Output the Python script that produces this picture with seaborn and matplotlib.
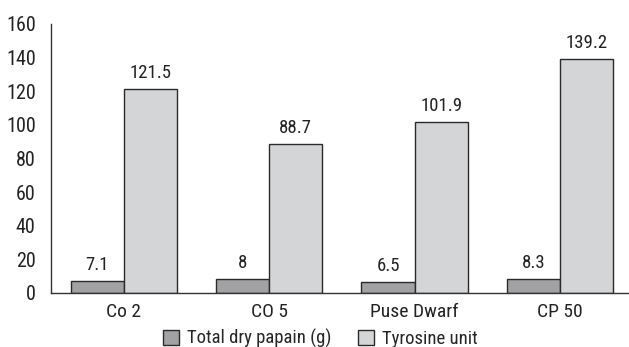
import matplotlib
matplotlib.use("Agg")
import matplotlib.pyplot as plt
import seaborn as sns
import pandas as pd

categories = ["Co 2", "CO 5", "Puse Dwarf", "CP 50"]
series_names = ["Total dry papain (g)", "Tyrosine unit"]
papain = [7.1, 8, 6.5, 8.3]
tyrosine = [121.5, 88.7, 101.9, 139.2]
labels_papain = ["7.1", "8", "6.5", "8.3"]
labels_tyrosine = ["121.5", "88.7", "101.9", "139.2"]
yticks = [0, 20, 40, 60, 80, 100, 120, 140, 160]

sns.set_style("white")
plt.rcParams["font.family"] = ["Roboto Condensed", "DejaVu Sans"]

df = pd.DataFrame({
    "cat": categories * 2,
    "series": [series_names[0]] * 4 + [series_names[1]] * 4,
    "val": papain + tyrosine,
})

fig = plt.figure(figsize=(6.29, 3.47), dpi=100)
ax = fig.add_axes([0.081, 0.156, 0.925, 0.775])
sns.barplot(data=df, x="cat", y="val", hue="series", order=categories,
            hue_order=series_names, palette=["#a2a2a4", "#d4d5d7"],
            width=0.73, edgecolor="#2a2a2a", linewidth=1.0, ax=ax, legend=True)

for cont, labs in zip(ax.containers, [labels_papain, labels_tyrosine]):
    ax.bar_label(cont, labels=labs, padding=5, fontsize=13.5, color="#222222")

ax.set_ylim(0, 160)
ax.set_xlim(-0.5, 3.5)
ax.set_yticks(yticks)
ax.set_xlabel("")
ax.set_ylabel("")
ax.tick_params(axis="both", length=0, labelsize=14.5, colors="#222222")
ax.tick_params(axis="y", pad=11)
ax.tick_params(axis="x", pad=7, labelsize=14)
for s in ["top", "right"]:
    ax.spines[s].set_visible(False)
for s in ["left", "bottom"]:
    ax.spines[s].set_color("#333333")
    ax.spines[s].set_linewidth(1.0)

handles, labs = ax.get_legend_handles_labels()
ax.legend(handles, labs, loc="center", bbox_to_anchor=(0.509, 0.024),
          bbox_transform=fig.transFigure,
          ncol=2, frameon=False, fontsize=13.5, handlelength=0.9, handleheight=0.9,
          handletextpad=0.4, columnspacing=1.4, borderaxespad=0, borderpad=0)

fig.savefig("out.png", dpi=100)
